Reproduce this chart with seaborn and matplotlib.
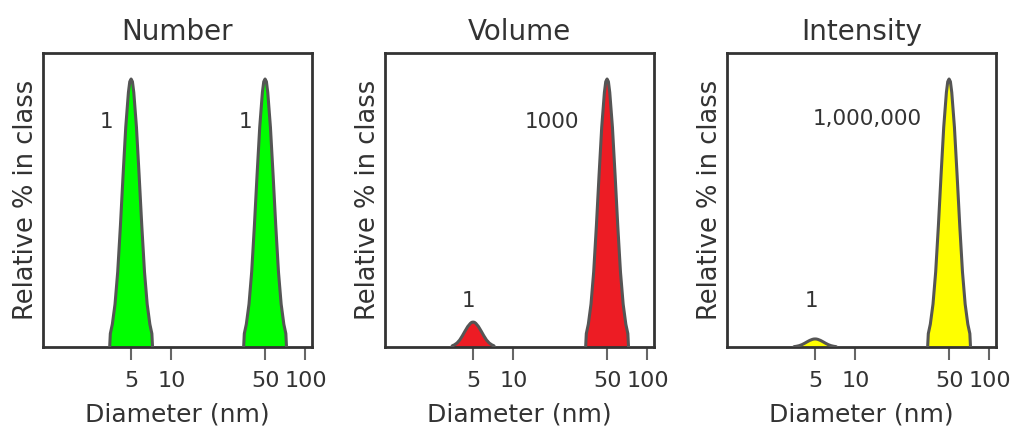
import numpy as np
import pandas as pd
import matplotlib
matplotlib.use("Agg")
import matplotlib.pyplot as plt
import seaborn as sns

sns.set_style("white")
plt.rcParams['font.family'] = ['DejaVu Sans']

# panels
titles = ['Number', 'Volume', 'Intensity']
fill_colors = ['#00ff00', '#ed1c24', '#ffff00']
peak_centers = [5, 50]                     # nm
peak_heights = {'Number': [1.0, 1.0],
                'Volume': [0.093, 1.0],
                'Intensity': [0.03, 1.0]}

# peak shape (offset in decades of diameter, relative height)
profile_offsets = [-0.16, -0.155, -0.14, -0.12, -0.10, -0.08, -0.06, -0.04, -0.02, -0.01, 0.0,
                   0.01, 0.02, 0.04, 0.06, 0.08, 0.10, 0.12, 0.14, 0.155, 0.16]
profile_shape = [0.0, 0.05, 0.085, 0.16, 0.28, 0.45, 0.64, 0.82, 0.95, 0.99, 1.0,
                 0.99, 0.95, 0.82, 0.64, 0.45, 0.28, 0.16, 0.085, 0.05, 0.0]

# number labels next to the peaks: (text, x, y)
labels = {'Number': [('1', 3.25, 0.84), ('1', 36, 0.84)],
          'Volume': [('1', 4.6, 0.17), ('1000', 19.5, 0.84)],
          'Intensity': [('1', 4.7, 0.17), ('1,000,000', 12.3, 0.85)]}

tick_vals = [5, 10, 50, 100]
tick_labels = ['5', '10', '50', '100']

txt = '#333333'
fig = plt.figure(figsize=(10.12, 4.30), dpi=100)
lefts = [43, 385, 727]
for i, name in enumerate(titles):
    ax = fig.add_axes([lefts[i] / 1012, 1 - 347 / 430, 269 / 1012, 294 / 430])
    for c, h in zip(peak_centers, peak_heights[name]):
        df = pd.DataFrame({'d': c * 10 ** np.array(profile_offsets),
                           'y': h * np.array(profile_shape)})
        ax.fill_between(df['d'], 0, df['y'], color=fill_colors[i], lw=0, zorder=2)
        sns.lineplot(data=df, x='d', y='y', ax=ax, color='#555555', lw=2.2,
                     sort=False, estimator=None, zorder=3)
    for t, x, y in labels[name]:
        ax.text(x, y, t, ha='center', va='center', fontsize=15.5, color=txt)
    ax.set_xscale('log')
    ax.set_xlim(1.1, 112)
    ax.set_ylim(0, 1.097)
    ax.set_xticks(tick_vals)
    ax.set_xticklabels(tick_labels)
    ax.minorticks_off()
    ax.set_yticks([])
    ax.tick_params(axis='x', direction='out', length=9.5, width=1.5, color='#666666',
                   labelsize=16, labelcolor=txt, pad=8, bottom=True)
    for s in ax.spines.values():
        s.set_color('#333333')
        s.set_linewidth(2)
    ax.set_title(name, fontsize=20, color=txt, pad=9)
    ax.set_xlabel('Diameter (nm)', fontsize=18, color=txt, labelpad=8)
    ax.set_ylabel('Relative % in class', fontsize=18.5, color=txt, labelpad=3)

fig.savefig('out.png', dpi=100)
